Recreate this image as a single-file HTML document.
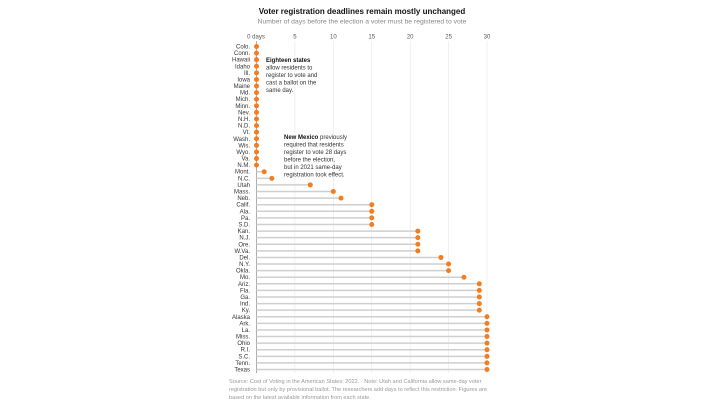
<!DOCTYPE html>
<html><head><meta charset="utf-8"><style>
body{margin:0;background:#fff;width:720px;height:405px;overflow:hidden;font-family:"Liberation Sans",sans-serif}
</style></head><body>
<svg id="c" width="720" height="405" xmlns="http://www.w3.org/2000/svg">
<text x="362" y="14" text-anchor="middle" font-size="8" font-weight="bold" fill="#121212">Voter registration deadlines remain mostly unchanged</text>
<text x="362" y="23.5" text-anchor="middle" font-size="6.8" fill="#888">Number of days before the election a voter must be registered to vote</text>
<g id="grid"></g><g id="marks"></g>
<g font-size="6" fill="#333">
<text x="266" y="62"><tspan font-weight="bold" fill="#121212">Eighteen states</tspan></text>
<text x="266" y="69.5">allow residents to</text>
<text x="266" y="77">register to vote and</text>
<text x="266" y="84.5">cast a ballot on the</text>
<text x="266" y="92">same day.</text>
</g>
<g font-size="6" fill="#333">
<text x="284" y="139"><tspan font-weight="bold" fill="#121212">New Mexico</tspan> previously</text>
<text x="284" y="146.5">required that residents</text>
<text x="284" y="154">register to vote 28 days</text>
<text x="284" y="161.5">before the election,</text>
<text x="284" y="169">but in 2021 same-day</text>
<text x="284" y="176.5">registration took effect.</text>
</g>
<g font-size="5.6" fill="#999">
<text x="229" y="383">Source: Cost of Voting in the American States: 2022.  ·  Note: Utah and California allow same-day voter</text>
<text x="229" y="391">registration but only by provisional ballot. The researchers add days to reflect this restriction. Figures are</text>
<text x="229" y="399">based on the latest available information from each state.</text>
</g>
</svg>
<script>
const states=["Colo.","Conn.","Hawaii","Idaho","Ill.","Iowa","Maine","Md.","Mich.","Minn.","Nev.","N.H.","N.D.","Vt.","Wash.","Wis.","Wyo.","Va.","N.M.","Mont.","N.C.","Utah","Mass.","Neb.","Calif.","Ala.","Pa.","S.D.","Kan.","N.J.","Ore.","W.Va.","Del.","N.Y.","Okla.","Mo.","Ariz.","Fla.","Ga.","Ind.","Ky.","Alaska","Ark.","La.","Miss.","Ohio","R.I.","S.C.","Tenn.","Texas"];
const days=[0,0,0,0,0,0,0,0,0,0,0,0,0,0,0,0,0,0,0,1,2,7,10,11,15,15,15,15,21,21,21,21,24,25,25,27,29,29,29,29,29,30,30,30,30,30,30,30,30,30];
const ticks=[0,5,10,15,20,25,30];
const tickLabels=["0 days","5","10","15","20","25","30"];
const NS="http://www.w3.org/2000/svg";
const x=v=>256.5+v*(487-256.5)/30;
const y=i=>46.5+i*(369.5-46.5)/49;
function mk(t,a,p){const e=document.createElementNS(NS,t);for(const k in a)e.setAttribute(k,a[k]);p.appendChild(e);return e;}
const g=document.getElementById('grid'),m=document.getElementById('marks');
ticks.forEach((t,i)=>{
 const l=mk('line',{x1:x(t),x2:x(t),y1:41,y2:373,stroke:i==0?'#999':'#e6e6e6','stroke-width':i==0?0.8:0.6},g);
 
 
 const tx=mk('text',{x:x(t)+(i==0?-0.5:0),y:38.5,'text-anchor':'middle','font-size':6,fill:'#555'},g);
 tx.textContent=tickLabels[i];
 
 
});
states.forEach((s,i)=>{
 const lb=mk('text',{x:250,y:y(i)+2,'text-anchor':'end','font-size':6,fill:'#333'},m);
 lb.textContent=s;
 
 
 if(days[i]>0){const ln=mk('line',{x1:x(0),x2:x(days[i]),y1:y(i),y2:y(i),stroke:'#cfcfcf','stroke-width':1.5},m);
 
 }
 const d=mk('circle',{cx:x(days[i]),cy:y(i),r:2.5,fill:'#f47d20'},m);
 
 
});
</script>
</body></html>
